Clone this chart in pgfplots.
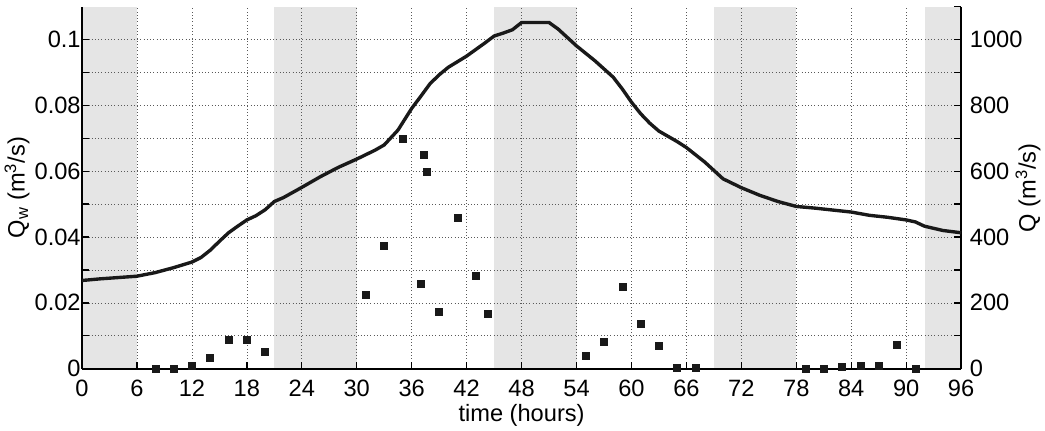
\documentclass[border=0pt]{standalone}
\usepackage{fontspec}
\setmainfont{Liberation Sans}
\usepackage{pgfplots}
\pgfplotsset{compat=1.18}

\begin{document}
\begin{tikzpicture}
\pgfplotsset{
  every axis/.append style={
    width=651pt, height=268pt, scale only axis,
    xmin=0, xmax=96,
    font=\fontsize{17.5}{20}\selectfont,
    /pgf/number format/assume math mode=true,
    tick style={black, line width=1pt},
    major tick length=5pt, minor tick length=5pt,
    tick align=inside,
    axis line style={line width=1.4pt, -},
    clip=false,
  }
}
% left axis: Qw samples, bands, grid
\begin{axis}[
  set layers,
  axis x line*=bottom, axis y line*=left,
  ymin=0, ymax=0.11,
  xtick={0,6,...,96},
  ytick={0,0.02,0.04,0.06,0.08,0.1},
  minor ytick={0.01,0.03,0.05,0.07,0.09},
  scaled y ticks=false,
  yticklabel style={/pgf/number format/fixed, /pgf/number format/precision=2, xshift=2.5pt},
  xticklabel style={yshift=-5pt},
  grid=both,
  major grid style={dotted, black!65, line width=0.5pt},
  minor grid style={dotted, black!65, line width=0.5pt},
  xlabel={time (hours)},
  xlabel style={yshift=1.5pt},
  ylabel={Q\textsubscript{w} (m\textsuperscript{3}/s)},
  ylabel style={yshift=-3pt},
]
% night bands
\addplot[fill=gray!20, draw=none, on layer=axis background] coordinates {(0,0) (0,0.11) (6,0.11) (6,0)};
\addplot[fill=gray!20, draw=none, on layer=axis background] coordinates {(21,0) (21,0.11) (30,0.11) (30,0)};
\addplot[fill=gray!20, draw=none, on layer=axis background] coordinates {(45,0) (45,0.11) (54,0.11) (54,0)};
\addplot[fill=gray!20, draw=none, on layer=axis background] coordinates {(69,0) (69,0.11) (78,0.11) (78,0)};
\addplot[fill=gray!20, draw=none, on layer=axis background] coordinates {(92,0) (92,0.11) (96,0.11) (96,0)};

\addplot[only marks, mark=square*, mark size=2.6pt, mark options={fill=black!90, draw=black!90}] coordinates {
  (8,0) (10,0) (12,0.001) (14,0.0034) (16,0.0087) (18,0.0088) (20,0.0052)
  (31,0.0226) (33,0.0373) (35,0.0699) (37,0.0258) (37.3,0.0649) (37.6,0.0599)
  (39,0.0173) (41,0.0458) (43,0.0281) (44.3,0.0168)
  (55,0.0039) (57,0.0081) (59,0.0248) (61,0.0136) (63,0.0071) (65,0.0004) (67,0.0004)
  (79,0) (81,0) (83,0.0005) (85,0.0008) (87,0.0008) (89,0.0072) (91,0)
};
\end{axis}

% right axis: discharge
\begin{axis}[
  axis y line*=right, axis x line=none,
  ymin=0, ymax=1100,
  ytick={0,200,400,600,800,1000},
  minor ytick={100,300,500,700,900,1100},
  yticklabel style={/pgf/number format/1000 sep={}, xshift=3pt},
  ylabel={Q (m\textsuperscript{3}/s)},
  ylabel style={yshift=12pt},
]
\addplot[line width=2.5pt, black!90] coordinates {
  (0,268) (2,273) (4,277) (6,281) (8,292) (10,307) (12,324) (13,338)
  (14,360) (15,387) (16,413) (17,433) (18,452) (19,465) (20,483) (21,508)
  (22,520) (24,551) (26,583) (28,612) (30,637) (32,664) (33,680) (34.5,725)
  (36,791) (37,828) (38,866) (39,893) (40,916) (42,950) (44,990) (45,1011)
  (46,1020) (47,1030) (48,1052) (51,1052) (52,1032) (54,981) (56,936)
  (58,886) (59,850) (60,810) (61,775) (62,746) (63,722) (64,706) (65,690)
  (66,672) (68,628) (70,577) (72,550) (74,527) (76,508) (78,493) (80,488)
  (82,482) (84,476) (86,466) (88,460) (90,452) (91,446) (92,433) (94,420)
  (96,413)
};
\end{axis}
% top margin as in the reference
\path (current axis.north west) ++(0,5pt);
\end{tikzpicture}
\end{document}
